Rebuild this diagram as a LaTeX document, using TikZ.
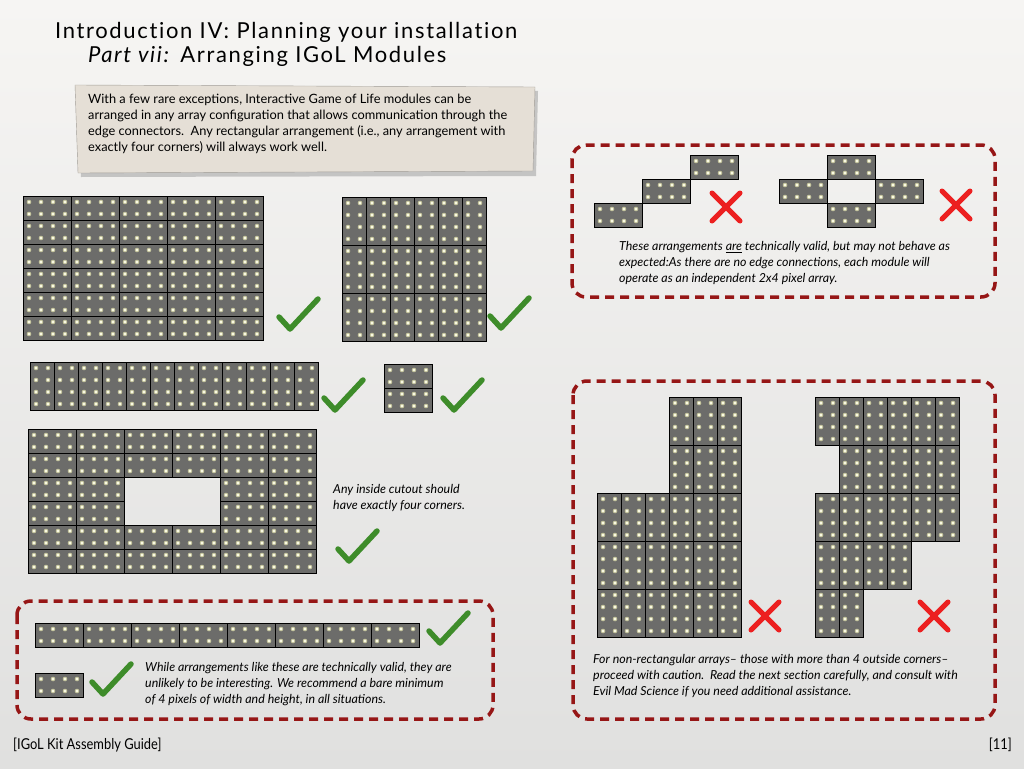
\documentclass[tikz,border=0pt]{standalone}
\usepackage{fontspec}
\setmainfont{Lato}
\usepackage{graphicx}
\usepackage{tikz}

\definecolor{modgray}{RGB}{108,108,106}
\definecolor{ledglow}{RGB}{196,196,156}
\definecolor{ledcore}{RGB}{255,255,236}
\definecolor{okgreen}{RGB}{62,140,42}
\definecolor{badred}{RGB}{236,32,32}
\definecolor{boxred}{RGB}{150,22,22}
\definecolor{paper}{RGB}{229,223,214}

\tikzset{
  modbody/.style={fill=modgray,draw=black,line width=1pt},
  dashbox/.style={draw=boxred,line width=3.5pt,dash pattern=on 9pt off 6pt,rounded corners=14pt},
  goodline/.style={draw=okgreen,line width=5.5pt,line cap=round,line join=round},
  badline/.style={draw=badred,line width=5pt,line cap=round},
  note/.style={font=\itshape\fontsize{12.4}{16}\selectfont,align=left,anchor=north west,inner sep=0pt},
  heading/.style={anchor=base west,inner sep=0pt,font=\fontsize{22}{24}\selectfont},
}

% one module: x, y of top left corner, pixels across, pixels down
\newcommand{\module}[4]{%
  \draw[modbody] (#1,#2) rectangle ++({12*#3},{12*#4});
  \foreach \i in {1,...,#3}{\foreach \j in {1,...,#4}{
    \fill[ledglow] ({#1+12*\i-6},{#2+12*\j-6}) circle (2.3pt);
    \fill[ledcore] ({#1+12*\i-6},{#2+12*\j-6}) circle (1.3pt);
  }}}
\newcommand{\hmod}[2]{\module{#1}{#2}{4}{2}}
\newcommand{\vmod}[2]{\module{#1}{#2}{2}{4}}
\newcommand{\goodmark}[2]{\draw[goodline] ({#1-19},{#2+1}) -- ({#1-8},{#2+13}) -- ({#1+20},{#2-17});}
\newcommand{\badmark}[2]{\draw[badline] ({#1-14},{#2-14}) -- ({#1+14},{#2+14}) ({#1+14},{#2-14}) -- ({#1-14},{#2+14});}

\begin{document}
\begin{tikzpicture}[x=1pt,y=-1pt]
  \useasboundingbox (0,0) rectangle (1024,768);
  \shade[top color={rgb,255:red,246;green,245;blue,243},bottom color={rgb,255:red,224;green,224;blue,223}] (0,0) rectangle (1024,768);

  \node[heading] (title) at (55,38) {\addfontfeature{LetterSpace=7.5,Ligatures=NoCommon}Introduction IV: Planning your installation};
  \node[heading] (subtitle) at (88,63) {\addfontfeature{LetterSpace=7.5}\textit{Part vii:} Arranging IGoL Modules};

  \fill[black!40,opacity=.5] (78,89) -- (538,91) -- (536,176) -- (81,177) -- cycle;
  \fill[paper,draw=paper!70!black,line width=.4pt] (75,85) -- (535,87) -- (533,171) -- (78,173) -- cycle;
  \node[anchor=north west,inner sep=0pt,align=left,font=\fontsize{12.8}{16}\selectfont] (intro) at (88,94)
    {With a few rare exceptions, Interactive Game of Life modules can be\\
     arranged in any array configuration that allows communication through the\\
     edge connectors.\ \ Any rectangular arrangement (i.e., any arrangement with\\
     exactly four corners) will always work well.};

  % arrangements that work
  \foreach \c in {0,...,4} \foreach \r in {0,...,5} {\hmod{23+48*\c}{196+24*\r}}
  \goodmark{298}{316}
  \foreach \c in {0,...,5} \foreach \r in {0,1,2} {\vmod{342+24*\c}{197+48*\r}}
  \goodmark{509}{315}
  \foreach \c in {0,...,11} {\vmod{30+24*\c}{362}}
  \goodmark{343}{397}
  \hmod{384}{364}
  \hmod{384}{388}
  \goodmark{462}{397}
  \foreach \r in {0,1,4,5} \foreach \c in {0,...,5} {\hmod{28+48*\c}{429+24*\r}}
  \foreach \r in {2,3} \foreach \c in {0,1,4,5} {\hmod{28+48*\c}{429+24*\r}}
  \node[note] (cutnote) at (333,484) {Any inside cutout should\\have exactly four corners.};
  \goodmark{357}{548}

  % thin arrangements
  \draw[dashbox] (17,601) rectangle (493,719);
  \foreach \c in {0,...,7} {\hmod{35+48*\c}{623}}
  \goodmark{448}{630}
  \hmod{35}{673}
  \goodmark{111}{681}
  \node[note] (thinnote) at (145,662)
    {While arrangements like these are technically valid, they are\\
     unlikely to be interesting. We recommend a bare minimum\\
     of 4 pixels of width and height, in all situations.};

  % corner contacts only
  \draw[dashbox] (572,145) rectangle (995,297);
  \hmod{594}{203}
  \hmod{642}{179}
  \hmod{690}{155}
  \badmark{726}{207}
  \hmod{779}{179}
  \hmod{827}{155}
  \hmod{875}{179}
  \hmod{827}{203}
  \badmark{956}{205}
  \node[note] (cornernote) at (619,241)
    {These arrangements \underline{are} technically valid, but may not behave as\\
     expected:As there are no edge connections, each module will\\
     operate as an independent 2x4 pixel array.};

  % non-rectangular
  \draw[dashbox] (573,381) rectangle (995,719);
  \foreach \r in {0,1} \foreach \c in {3,4,5} {\vmod{597+24*\c}{397+48*\r}}
  \foreach \r in {2,3,4} \foreach \c in {0,...,5} {\vmod{597+24*\c}{397+48*\r}}
  \badmark{765}{616}
  \foreach \c in {0,...,5} {\vmod{815+24*\c}{397}}
  \foreach \c in {1,...,5} {\vmod{815+24*\c}{445}}
  \foreach \c in {0,...,5} {\vmod{815+24*\c}{493}}
  \foreach \c in {0,...,3} {\vmod{815+24*\c}{541}}
  \foreach \c in {0,1} {\vmod{815+24*\c}{589}}
  \badmark{934}{616}
  \node[note] (shapenote) at (593,654)
    {For non-rectangular arrays– those with more than 4 outside corners–\\
     proceed with caution.\ \ Read the next section carefully, and consult with\\
     Evil Mad Science if you need additional assistance.};

  \node[anchor=west,inner sep=0pt,font=\fontsize{15}{16}\selectfont] (guide) at (13,745) {\scalebox{0.86}[1]{[IGoL Kit Assembly Guide]}};
  \node[anchor=east,inner sep=0pt,font=\fontsize{15}{16}\selectfont] (page) at (1012,745) {\scalebox{0.86}[1]{[11]}};
\end{tikzpicture}
\end{document}
